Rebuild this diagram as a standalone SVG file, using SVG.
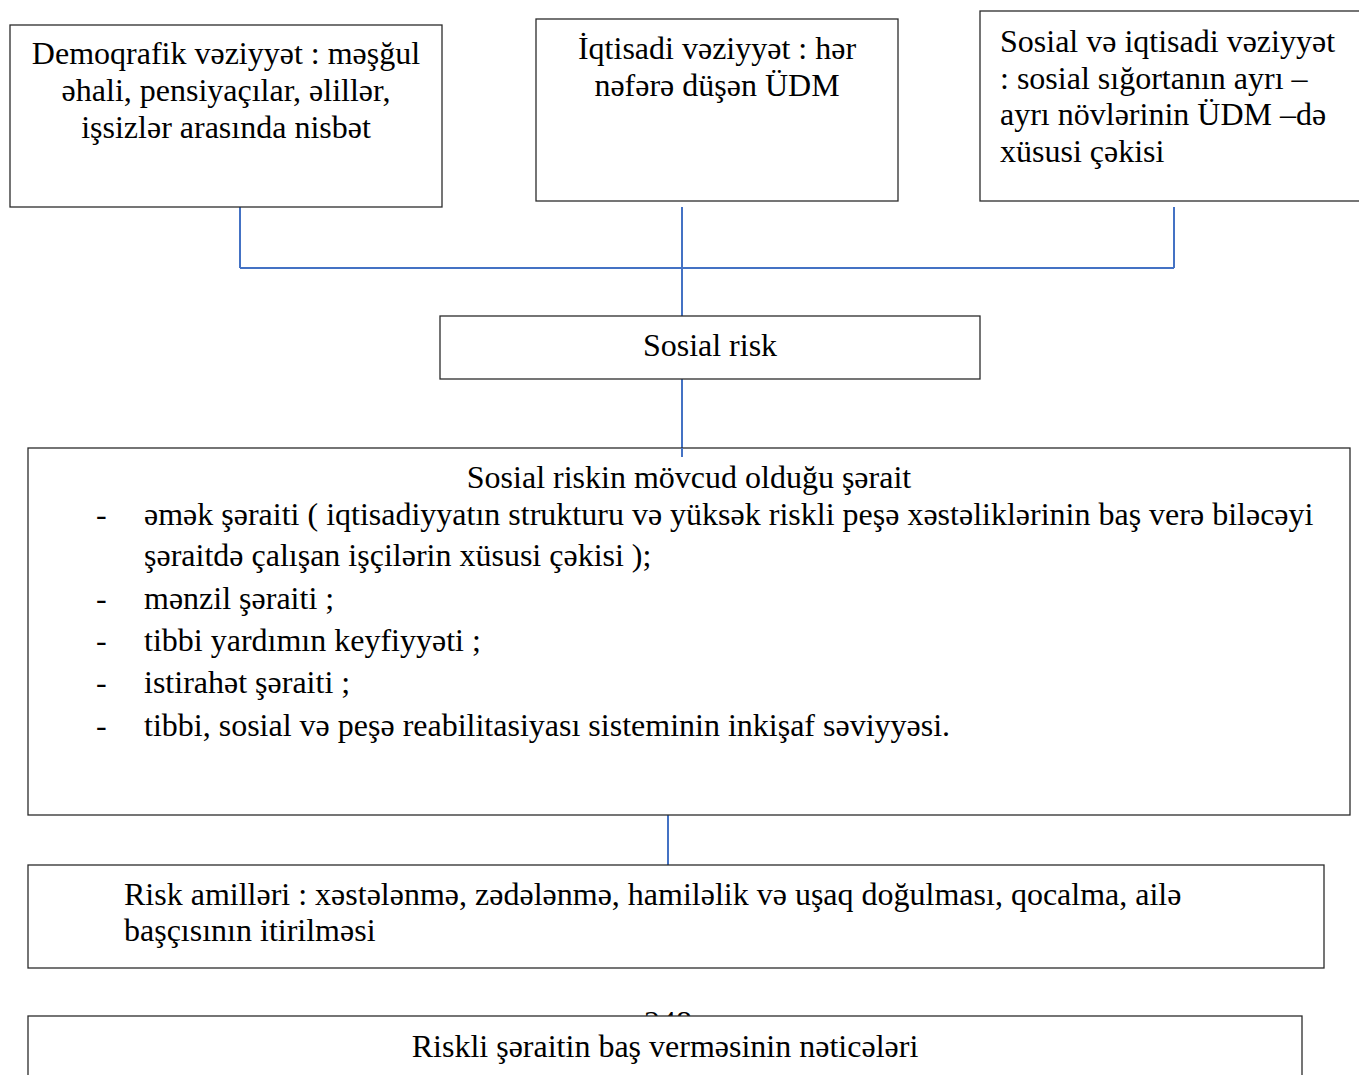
<svg xmlns="http://www.w3.org/2000/svg" width="1359" height="1075" viewBox="0 0 1359 1075">
  <style>
    .box { fill: #ffffff; stroke: #2b2b2b; stroke-width: 1.3; }
    .t { font-family: "Liberation Serif", "Times New Roman", serif; font-size: 32px; fill: #000000; }
    .c { text-anchor: middle; }
    .link { stroke: #4472C4; stroke-width: 2; fill: none; }
  </style>
  <defs>
    <clipPath id="above-last-box">
      <rect x="0" y="990" width="1359" height="26"/>
    </clipPath>
  </defs>
  <rect x="0" y="0" width="1359" height="1075" fill="#ffffff"/>

  <!-- page number, mostly covered by the last box -->
  <text class="t c" x="668" y="1033" clip-path="url(#above-last-box)">248</text>

  <g id="connectors">
    <line class="link" x1="240" y1="207" x2="240" y2="268"/>
    <line class="link" x1="682" y1="207" x2="682" y2="316"/>
    <line class="link" x1="1174" y1="207" x2="1174" y2="268"/>
    <line class="link" x1="240" y1="268" x2="1174" y2="268"/>
    <line class="link" x1="682" y1="379" x2="682" y2="457"/>
    <line class="link" x1="668" y1="815" x2="668" y2="865"/>
  </g>

  <g id="demographic">
    <rect class="box" x="10" y="25" width="432" height="182"/>
    <text class="t c" x="226" y="64">Demoqrafik vəziyyət : məşğul</text>
    <text class="t c" x="226" y="101">əhali, pensiyaçılar, əlillər,</text>
    <text class="t c" x="226" y="138">işsizlər arasında nisbət</text>
  </g>

  <g id="economic">
    <rect class="box" x="536" y="19" width="362" height="182"/>
    <text class="t c" x="717" y="59">İqtisadi vəziyyət : hər</text>
    <text class="t c" x="717" y="96">nəfərə düşən ÜDM</text>
  </g>

  <g id="socioeconomic">
    <rect class="box" x="980" y="11" width="390" height="190"/>
    <text class="t" x="1000" y="52">Sosial və iqtisadi vəziyyət</text>
    <text class="t" x="1000" y="89">: sosial sığortanın ayrı –</text>
    <text class="t" x="1000" y="125">ayrı növlərinin ÜDM –də</text>
    <text class="t" x="1000" y="162">xüsusi çəkisi</text>
  </g>

  <g id="social-risk">
    <rect class="box" x="440" y="316" width="540" height="63"/>
    <text class="t c" x="710" y="356">Sosial risk</text>
  </g>

  <g id="conditions">
    <rect class="box" x="28" y="448" width="1322" height="367"/>
    <line class="link" x1="682" y1="448" x2="682" y2="457"/>
    <text class="t c" x="689" y="488">Sosial riskin mövcud olduğu şərait</text>
    <text class="t" x="96" y="525">-</text>
    <text class="t" x="144" y="525">əmək şəraiti ( iqtisadiyyatın strukturu və yüksək riskli peşə xəstəliklərinin baş verə biləcəyi</text>
    <text class="t" x="144" y="566">şəraitdə çalışan işçilərin xüsusi çəkisi );</text>
    <text class="t" x="96" y="609">-</text>
    <text class="t" x="144" y="609">mənzil şəraiti ;</text>
    <text class="t" x="96" y="651">-</text>
    <text class="t" x="144" y="651">tibbi yardımın keyfiyyəti ;</text>
    <text class="t" x="96" y="693">-</text>
    <text class="t" x="144" y="693">istirahət şəraiti ;</text>
    <text class="t" x="96" y="736">-</text>
    <text class="t" x="144" y="736">tibbi, sosial və peşə reabilitasiyası sisteminin inkişaf səviyyəsi.</text>
  </g>

  <g id="risk-factors">
    <rect class="box" x="28" y="865" width="1296" height="103"/>
    <text class="t" x="124" y="905">Risk amilləri : xəstələnmə, zədələnmə, hamiləlik və uşaq doğulması, qocalma, ailə</text>
    <text class="t" x="124" y="941">başçısının itirilməsi</text>
  </g>

  <g id="consequences">
    <rect class="box" x="28" y="1016" width="1274" height="80"/>
    <text class="t c" x="665" y="1057">Riskli şəraitin baş vermәsinin nəticələri</text>
  </g>
</svg>
